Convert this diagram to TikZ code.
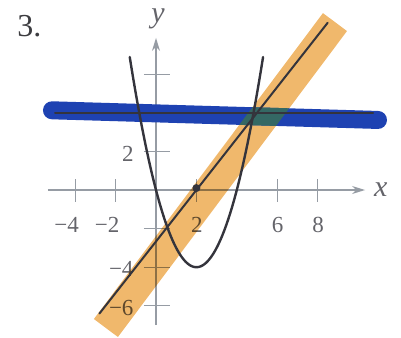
\documentclass[tikz,border=0pt]{standalone}
\usepackage{fontspec}
\setmainfont{Liberation Serif}
\usetikzlibrary{positioning, arrows.meta, calc}

\definecolor{axisgray}{RGB}{150,156,164}
\definecolor{curvegray}{RGB}{52,52,60}
\definecolor{labelgray}{RGB}{100,100,106}
\definecolor{numgray}{RGB}{60,60,64}
\definecolor{markerblue}{RGB}{30,66,178}
\definecolor{markerorange}{RGB}{240,184,108}
\definecolor{overlapteal}{RGB}{52,104,100}

\begin{document}
\begin{tikzpicture}[x=20.2pt, y=19.3pt, >=Stealth, thick,
		axis/.style={draw=axisgray, line width=1.3pt},
		ticklabel/.style={text=labelgray, font=\fontsize{23}{23}\selectfont, inner sep=0pt},
		axislabel/.style={text=labelgray, font=\fontsize{30}{30}\selectfont\itshape, inner sep=0pt},
		graph/.style={draw=curvegray, line width=2.4pt, line cap=round}]
		\useasboundingbox (-7.723,-7.668) rectangle (12.129,9.845);
		
		% axes and ticks
		\coordinate (xstart) at (-5.35,0);
		\coordinate (xend) at (10.35,0);
		\coordinate (ystart) at (0,-7.0);
		\coordinate (yend) at (0,7.88);
		\draw [axis, -{Stealth[length=13pt, width=8pt]}] (xstart) -- (xend);
		\draw [axis, -{Stealth[length=13pt, width=8pt]}] (ystart) -- (yend);
		\foreach \t in {-4,-2,2,6,8}
			\draw [axis] (\t,0.55) -- (\t,-0.6);
		\foreach \t in {-6,-4,-2,2,4,6}
			\draw [axis] (-0.6,\t) -- (0.7,\t);
		
		% tick labels
		\foreach \t/\n in {-4/m4,-2/m2}
			\node [ticklabel] (xl\n) at (\t-0.1,-1.79) {\makebox[0pt][r]{−}\pgfmathparse{int(-\t)}\pgfmathresult};
		\foreach \t in {2,6,8}
			\node [ticklabel] (xl\t) at (\t+0.02,-1.79) {\t};
		\node [ticklabel] (yl2) at (-1.39,1.85) {2};
		\foreach \t/\n in {-4/m4,-6/m6}
			\node [ticklabel] (yl\n) at (-1.4,\t-0.1) {\makebox[0pt][r]{−}\pgfmathparse{int(-\t)}\pgfmathresult};
		\node [axislabel, right=0.3cm of xend] (xlab) {x};
		\node [axislabel] (ylab) at (0.1,8.86) {y};
		\node [font=\fontsize{32}{32}\selectfont, text=numgray, anchor=base west, inner sep=0pt] (num) at (-6.88,7.93) {3.};
		
		% highlighter strokes
		\coordinate (ob1) at (-2.48,-7.15);
		\coordinate (ob2) at (8.86,8.70);
		\coordinate (bb1) at (-5.15,4.13);
		\coordinate (bb2) at (10.99,3.63);
		\draw [markerorange, line width=30pt, blend mode=multiply] (ob1) -- (ob2);
		\draw [markerblue, line width=18pt, line cap=round] (bb1) -- (bb2);
		\begin{scope}
			\clip ($(ob1)!15pt!90:(ob2)$) -- ($(ob2)!15pt!-90:(ob1)$) -- ($(ob2)!15pt!90:(ob1)$) -- ($(ob1)!15pt!-90:(ob2)$) -- cycle;
			\draw [overlapteal, line width=18pt] (bb1) -- (bb2);
		\end{scope}
		
		% graphs
		\coordinate (lstart) at (-2.8,-6.4);
		\coordinate (lend) at (8.5,8.667);
		\coordinate (hstart) at (-5,4);
		\coordinate (hend) at (10.75,4);
		\draw [graph, domain=-1.3:5.3, samples=80, smooth] plot (\x,{\x*\x-4*\x});
		\draw [graph, line width=2pt] (lstart) -- (lend);
		\draw [graph, line width=2pt] (hstart) -- (hend);
		\node [circle, fill=curvegray, inner sep=0pt, minimum size=8pt] (pt) at (2,0.1) {};
	\end{tikzpicture}
\end{document}
